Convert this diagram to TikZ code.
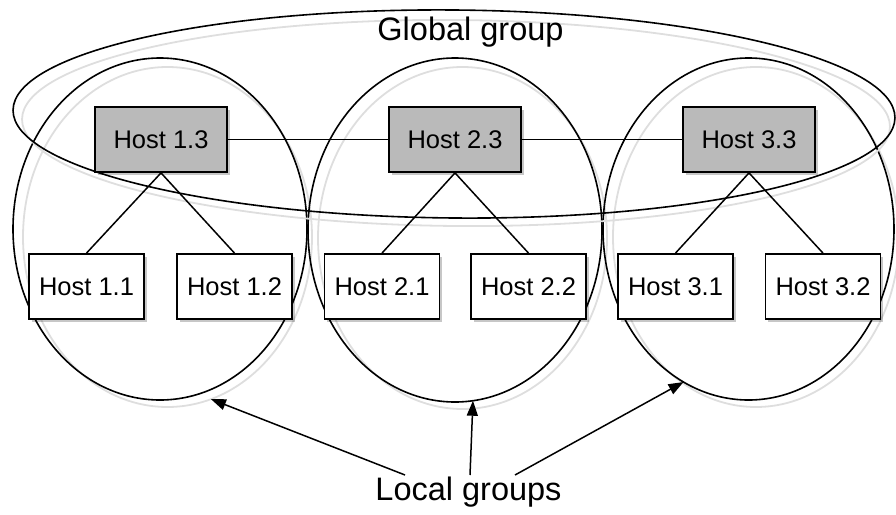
\documentclass[tikz,border=0pt]{standalone}
\usepackage{fontspec}
\setmainfont{Liberation Sans}
\usetikzlibrary{shapes.geometric,shadows,arrows.meta}
\begin{document}
\begin{tikzpicture}[x=1pt,y=-1pt,
  ring/.style={ellipse, draw=black, line width=1.6pt, inner sep=0pt, outer sep=0pt},
  ringshade/.style={ellipse, draw=black!13, line width=1.8pt, inner sep=0pt, outer sep=0pt},
  hostbox/.style={rectangle, draw=black, line width=1.8pt, fill=white,
    minimum width=115pt, minimum height=65pt, inner sep=0pt,
    font=\fontsize{25.5}{30}\selectfont,
    drop shadow={shadow xshift=2.5pt, shadow yshift=-2.5pt, fill=black, opacity=0.22}},
  headbox/.style={hostbox, fill=black!27, minimum width=132pt},
  link/.style={line width=1.5pt},
  pointer/.style={line width=1.5pt, -{Triangle[length=15pt,width=11pt]}},
  caption/.style={font=\fontsize{32.5}{38}\selectfont, anchor=base, inner sep=0pt}]

\useasboundingbox (0,0) rectangle (896,514);

% local groups: soft outline behind, black outline on top
\node[ringshade, minimum width=289pt, minimum height=340pt] (lg1s) at (167.5,237) {};
\node[ringshade, minimum width=289pt, minimum height=342pt] (lg2s) at (462.5,238) {};
\node[ringshade, minimum width=286pt, minimum height=340pt] (lg3s) at (756,237) {};
\node[ring, minimum width=294pt, minimum height=342pt] (lg1) at (160,229) {};
\node[ring, minimum width=294pt, minimum height=344pt] (lg2) at (455,230) {};
\node[ring, minimum width=291pt, minimum height=342pt] (lg3) at (748.5,229) {};

% global group
\node[ringshade, rotate=-0.5, minimum width=868pt, minimum height=206pt] (ggs) at (456,123) {};
\node[ring, rotate=-0.5, minimum width=882pt, minimum height=208pt] (gg) at (454,114) {};

% hosts
\node[headbox] (h13) at (161,139.5) {Host 1.3};
\node[headbox] (h23) at (455,139.5) {Host 2.3};
\node[headbox] (h33) at (749,139.5) {Host 3.3};
\node[hostbox] (h11) at (86.5,286.5) {Host 1.1};
\node[hostbox] (h12) at (234.5,286.5) {Host 1.2};
\node[hostbox] (h21) at (382,286.5) {Host 2.1};
\node[hostbox] (h22) at (528.5,286.5) {Host 2.2};
\node[hostbox] (h31) at (675.5,286.5) {Host 3.1};
\node[hostbox] (h32) at (823,286.5) {Host 3.2};

% connections between the hosts
\draw[link] (h13) -- (h23);
\draw[link] (h23) -- (h33);
\draw[link] (h13.south) -- (h11.north);
\draw[link] (h13.south) -- (h12.north);
\draw[link] (h23.south) -- (h21.north);
\draw[link] (h23.south) -- (h22.north);
\draw[link] (h33.south) -- (h31.north);
\draw[link] (h33.south) -- (h32.north);

% labels
\node[caption] (glabel) at (470.5,40) {Global group};
\node[caption] (llabel) at (468.5,500) {Local groups};

% pointers from the caption to the local groups
\coordinate (t1) at (405,475);
\coordinate (t2) at (470,475);
\coordinate (t3) at (515,475);
\draw[pointer] (t1) -- (lg1s.-75);
\draw[pointer] (t2) -- (lg2.-84);
\draw[pointer] (t3) -- (lg3.-113);
\end{tikzpicture}
\end{document}
